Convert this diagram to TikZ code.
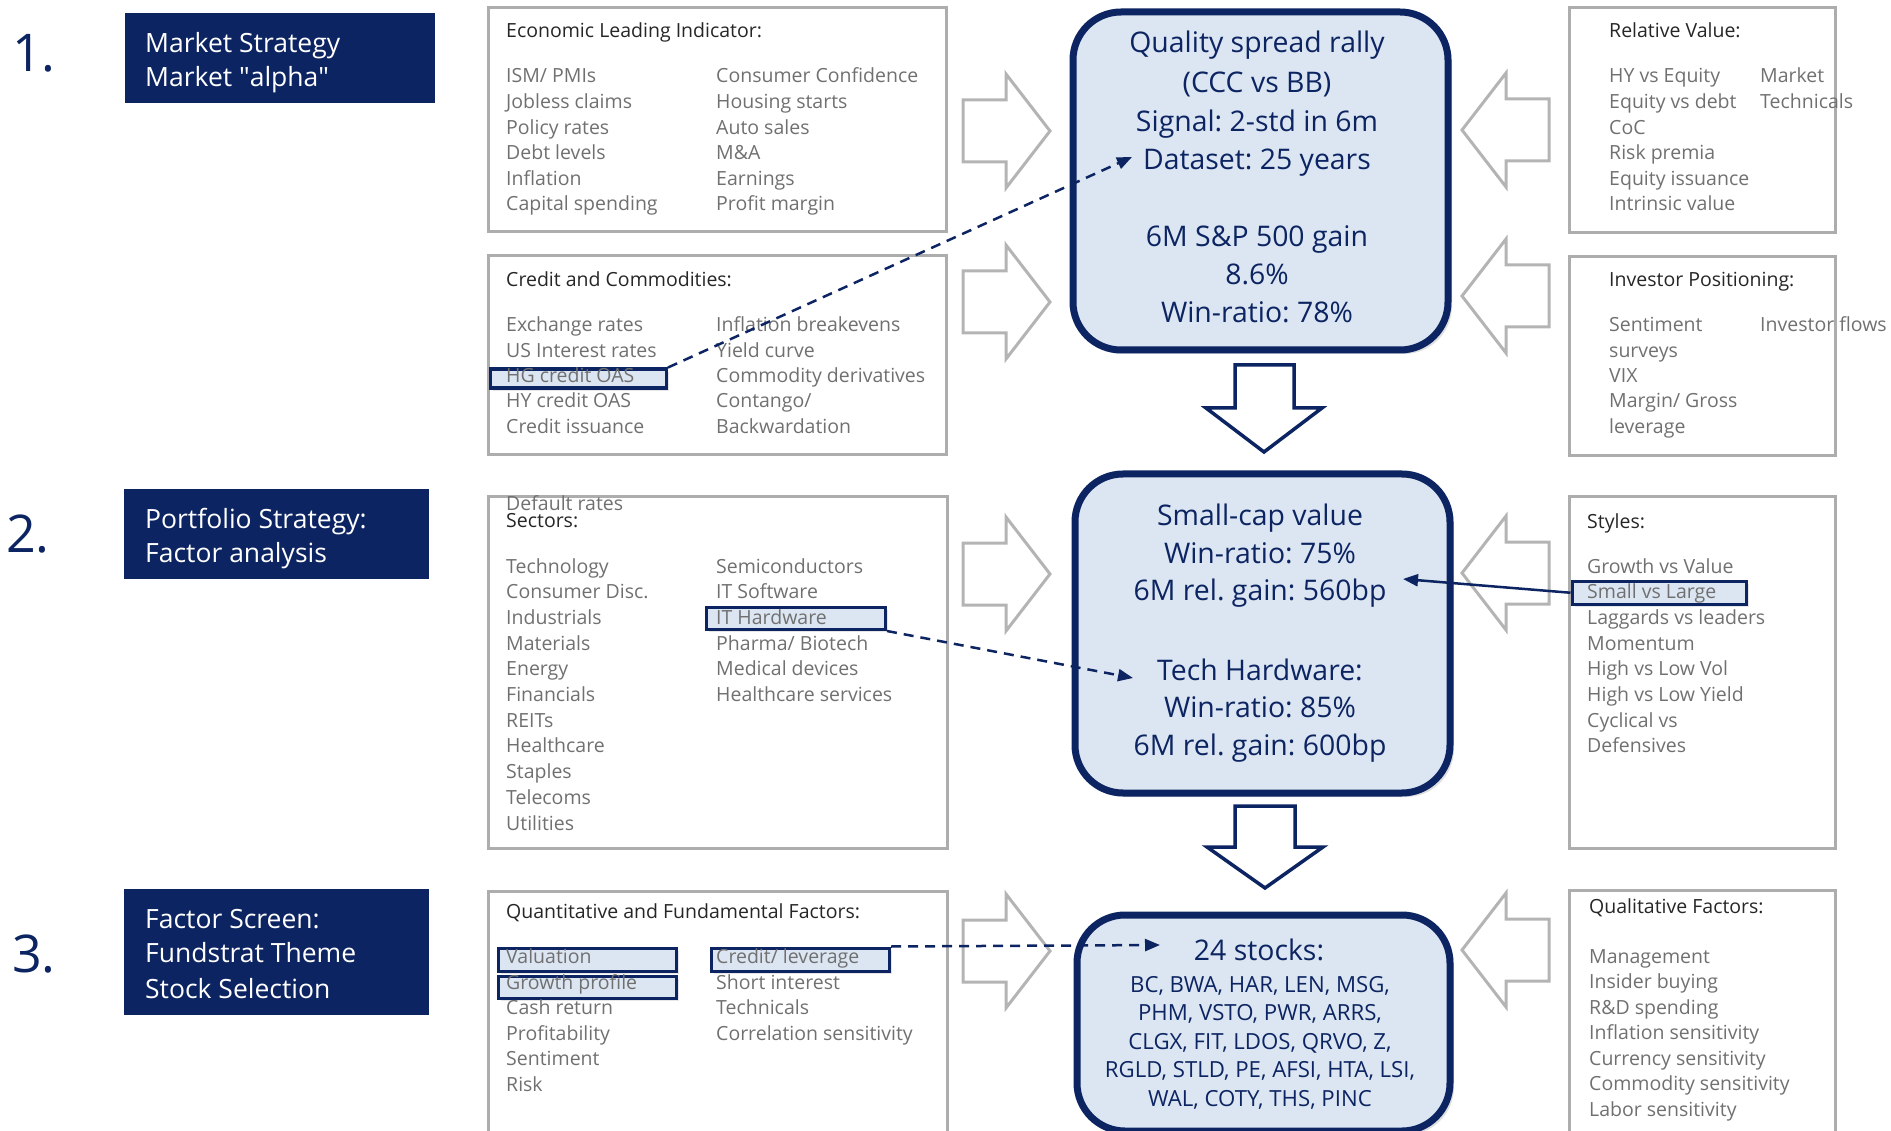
\documentclass[tikz,border=0pt]{standalone}
\usepackage{fontspec}
\setmainfont{Open Sans}
\newfontfamily\plainq{Open Sans}[Ligatures=TeXOff]
\usetikzlibrary{arrows.meta,shadows}
\definecolor{navy}{HTML}{0C2461}
\definecolor{lightblue}{HTML}{DCE6F2}
\definecolor{boxgray}{HTML}{ADADAD}
\definecolor{arrgray}{HTML}{B4B4B4}
\definecolor{itemgray}{HTML}{707070}
\definecolor{titlegray}{HTML}{262626}
\newcommand\fItem{\fontsize{19.5}{23}\selectfont}
\newcommand\fBig{\fontsize{28.4}{34}\selectfont}
\newcommand\fSec{\fontsize{26.5}{32}\selectfont}
\newcommand\fNum{\fontsize{52}{60}\selectfont}
\newcommand\fStk{\fontsize{22.2}{26}\selectfont}
\tikzset{
  secbox/.style={fill=navy, inner sep=0pt, anchor=north west},
  sectxt/.style={anchor=base west, inner sep=0pt, text=white, font=\fSec},
  numtxt/.style={anchor=base west, inner sep=0pt, text=navy, font=\fNum},
  graybox/.style={draw=boxgray, line width=3pt, inner sep=0pt, anchor=north west},
  itm/.style={anchor=base west, inner sep=0pt, text=itemgray, font=\fItem},
  ttl/.style={anchor=base west, inner sep=0pt, text=titlegray, font=\fItem},
  bigbox/.style={draw=navy, line width=7pt, fill=lightblue, rounded corners=48pt, inner sep=0pt, anchor=north west,
    drop shadow={opacity=0.25, shadow xshift=4pt, shadow yshift=-4pt}},
  bigtxt/.style={anchor=base, inner sep=0pt, text=navy, font=\fBig},
  stktxt/.style={anchor=base, inner sep=0pt, text=navy, font=\fStk},
  hl/.style={draw=navy, line width=3.5pt, fill=lightblue, inner sep=0pt, anchor=north west,
    drop shadow={opacity=0.2, shadow xshift=3pt, shadow yshift=-3pt}},
  grayarrow/.style={draw=arrgray, line width=3pt, fill=white, line join=miter},
  navyarrow/.style={draw=navy, line width=3.5pt, fill=white, line join=miter},
  dasharrow/.style={navy, line width=2.5pt, dash pattern=on 10pt off 7pt, -{Triangle[length=15pt,width=12pt]}},
  solidarrow/.style={navy, line width=2.5pt, -{Triangle[length=15pt,width=12pt]}},
}
\begin{document}
\frenchspacing
\begin{tikzpicture}[x=1pt,y=-1pt]
\useasboundingbox (0,0) rectangle (1891,1131);

% ---------- section labels ----------
\node[secbox, minimum width=310pt, minimum height=90pt] (s1) at (125,13) {};
\node[secbox, minimum width=305pt, minimum height=90pt] (s2) at (124,489) {};
\node[secbox, minimum width=305pt, minimum height=126pt] (s3) at (124,889) {};
\node[sectxt] (s1a) at (145,53) {Market Strategy};
\node[sectxt] (s1b) at (145,87) {Market {\plainq "}alpha{\plainq "}};
\node[sectxt] (s2a) at (145,528) {Portfolio Strategy:};
\node[sectxt] (s2b) at (145,562) {Factor analysis};
\node[sectxt] (s3a) at (145,928) {Factor Screen:};
\node[sectxt] (s3b) at (145,962) {Fundstrat Theme};
\node[sectxt] (s3c) at (145,998) {Stock Selection};
\node[numtxt] (n1) at (12,72) {1.};
\node[numtxt] (n2) at (6,552) {2.};
\node[numtxt] (n3) at (12,972) {3.};

% ---------- gray boxes ----------
\node[graybox, minimum width=458pt, minimum height=224pt] (econ) at (486.5,6.5) {};
\node[graybox, minimum width=458pt, minimum height=199pt] (cred) at (486.5,254.5) {};
\node[graybox, minimum width=459pt, minimum height=352pt] (sect) at (486.5,494.5) {};
\node[graybox, minimum width=459pt, minimum height=260pt] (quant) at (486.5,889.5) {};
\node[graybox, minimum width=266pt, minimum height=225pt] (relv) at (1567.5,6.5) {};
\node[graybox, minimum width=266pt, minimum height=199pt] (invp) at (1567.5,255.5) {};
\node[graybox, minimum width=266pt, minimum height=352pt] (styl) at (1567.5,494.5) {};
\node[graybox, minimum width=266pt, minimum height=260pt] (qual) at (1567.5,888.5) {};

% ---------- gray block arrows ----------
\foreach \ty in {131,302,574,951}{
  \draw[grayarrow] (963,\ty-31) -- (1006,\ty-31) -- (1006,\ty-57) -- (1050,\ty) -- (1006,\ty+57) -- (1006,\ty+31) -- (963,\ty+31) -- cycle;
}
\foreach \ty in {130,296,573,950}{
  \draw[grayarrow] (1549,\ty-31) -- (1506,\ty-31) -- (1506,\ty-57) -- (1462,\ty) -- (1506,\ty+57) -- (1506,\ty+31) -- (1549,\ty+31) -- cycle;
}

% ---------- navy down arrows ----------
\draw[navyarrow] (1235,365) -- (1294,365) -- (1294,408) -- (1322,408) -- (1264,452) -- (1206,408) -- (1235,408) -- cycle;
\draw[navyarrow] (1235,806) -- (1295,806) -- (1295,847) -- (1323,847) -- (1265,888) -- (1207,847) -- (1235,847) -- cycle;

% ---------- big rounded boxes ----------
\node[bigbox, minimum width=375pt, minimum height=338pt] (bA) at (1069.5,8.5) {};
\node[bigbox, minimum width=375pt, minimum height=319pt] (bB) at (1071.5,470.5) {};
\node[bigbox, minimum width=373pt, minimum height=216pt] (bC) at (1073.5,911.5) {};

\foreach \t/\y [count=\i] in {Quality spread rally/53, (CCC vs BB)/93, Signal: 2-std in 6m/132, Dataset: 25 years/170, 6M S\&P 500 gain/247, 8.6\%/285, Win-ratio: 78\%/323}
  \node[bigtxt] (ta\i) at (1257,\y) {\t};
\foreach \t/\y [count=\i] in {Small-cap value/525, Win-ratio: 75\%/563, 6M rel. gain: 560bp/600, Tech Hardware:/680, Win-ratio: 85\%/717, 6M rel. gain: 600bp/755}
  \node[bigtxt] (tb\i) at (1260,\y) {\t};
\node[bigtxt] (tc0) at (1259,960) {24 stocks:};
\node[stktxt] (tc1) at (1260,992) {BC, BWA, HAR, LEN, MSG,};
\node[stktxt] (tc2) at (1260,1020.5) {PHM, VSTO, PWR, ARRS,};
\node[stktxt] (tc3) at (1260,1049) {CLGX, FIT, LDOS, QRVO, Z,};
\node[stktxt] (tc4) at (1260,1077.5) {RGLD, STLD, PE, AFSI, HTA, LSI,};
\node[stktxt] (tc5) at (1260,1106) {WAL, COTY, THS, PINC};

% ---------- highlight boxes ----------
\node[hl, minimum width=176pt, minimum height=19pt] (hlHG) at (488.5,367.5) {};
\node[hl, minimum width=179pt, minimum height=22pt] (hlIT) at (704.5,605.5) {};
\node[hl, minimum width=178pt, minimum height=23pt] (hlVal) at (496.5,946.5) {};
\node[hl, minimum width=178pt, minimum height=22pt] (hlGP) at (496.5,974.5) {};
\node[hl, minimum width=178pt, minimum height=23pt] (hlCL) at (709.5,946.5) {};
\node[hl, minimum width=174pt, minimum height=23pt] (hlSL) at (1570.5,579.5) {};

% ---------- list texts ----------
\node[ttl] (econT) at (506,38) {Economic Leading Indicator:};
\foreach \t [count=\i from 0] in {ISM/ PMIs, Jobless claims, Policy rates, Debt levels, Inflation, Capital spending}
  \node[itm] (econL\i) at (506,{83+25.6*\i}) {\t};
\foreach \t [count=\i from 0] in {Consumer Confidence, Housing starts, Auto sales, M\&A, Earnings, Profit margin}
  \node[itm] (econR\i) at (716,{83+25.6*\i}) {\t};

\node[ttl] (credT) at (506,287) {Credit and Commodities:};
\foreach \t [count=\i from 0] in {Exchange rates, US Interest rates, HG credit OAS, HY credit OAS, Credit issuance}
  \node[itm] (credL\i) at (506,{332+25.3*\i}) {\t};
\foreach \t [count=\i from 0] in {Inflation breakevens, Yield curve, Commodity derivatives, Contango/, Backwardation}
  \node[itm] (credR\i) at (716,{332+25.3*\i}) {\t};

\node[itm] (dflt) at (506,511) {Default rates};
\node[ttl] (sectT) at (506,527) {Sectors:};
\foreach \t [count=\i from 0] in {Technology, Consumer Disc., Industrials, Materials, Energy, Financials, REITs, Healthcare, Staples, Telecoms, Utilities}
  \node[itm] (sectL\i) at (506,{573+25.7*\i}) {\t};
\foreach \t [count=\i from 0] in {Semiconductors, IT Software, IT Hardware, Pharma/ Biotech, Medical devices, Healthcare services}
  \node[itm] (sectR\i) at (716,{573+25.7*\i}) {\t};

\node[ttl] (quantT) at (506,918) {Quantitative and Fundamental Factors:};
\foreach \t [count=\i from 0] in {Valuation, Growth profile, Cash return, Profitability, Sentiment, Risk}
  \node[itm] (quantL\i) at (506,{963.5+25.6*\i}) {\t};
\foreach \t [count=\i from 0] in {Credit/ leverage, Short interest, Technicals, Correlation sensitivity}
  \node[itm] (quantR\i) at (716,{963.5+25.6*\i}) {\t};

\node[ttl] (relvT) at (1609,38) {Relative Value:};
\foreach \t [count=\i from 0] in {HY vs Equity, Equity vs debt, CoC, Risk premia, Equity issuance, Intrinsic value}
  \node[itm] (relvL\i) at (1609,{83+25.6*\i}) {\t};
\node[itm] (relvR0) at (1760,83) {Market};
\node[itm] (relvR1) at (1760,108.6) {Technicals};

\node[ttl] (invpT) at (1609,287) {Investor Positioning:};
\foreach \t [count=\i from 0] in {Sentiment, surveys, VIX, Margin/ Gross, leverage}
  \node[itm] (invpL\i) at (1609,{332+25.3*\i}) {\t};
\node[itm] (invpR0) at (1760,332) {Investor flows};

\node[ttl] (stylT) at (1587,528) {Styles:};
\foreach \t [count=\i from 0] in {Growth vs Value, Small vs Large, Laggards vs leaders, Momentum, High vs Low Vol, High vs Low Yield, Cyclical vs, Defensives}
  \node[itm] (stylL\i) at (1587,{573+25.7*\i}) {\t};

\node[ttl] (qualT) at (1589,913) {Qualitative Factors:};
\foreach \t [count=\i from 0] in {Management, Insider buying, R\&D spending, Inflation sensitivity, Currency sensitivity, Commodity sensitivity, Labor sensitivity}
  \node[itm] (qualL\i) at (1589,{963+25.5*\i}) {\t};

% ---------- connectors ----------
\coordinate (tipA) at (1132,157);
\coordinate (tipB1) at (1403,579);
\coordinate (tipB2) at (1133,678);
\coordinate (tipC) at (1160,945);
\draw[dasharrow] (hlHG.north east) -- (tipA);
\draw[dasharrow] (hlIT.south east) -- (tipB2);
\draw[dasharrow] (hlCL.north east) -- (tipC);
\draw[solidarrow] (hlSL.west) -- (tipB1);
\end{tikzpicture}
\end{document}
